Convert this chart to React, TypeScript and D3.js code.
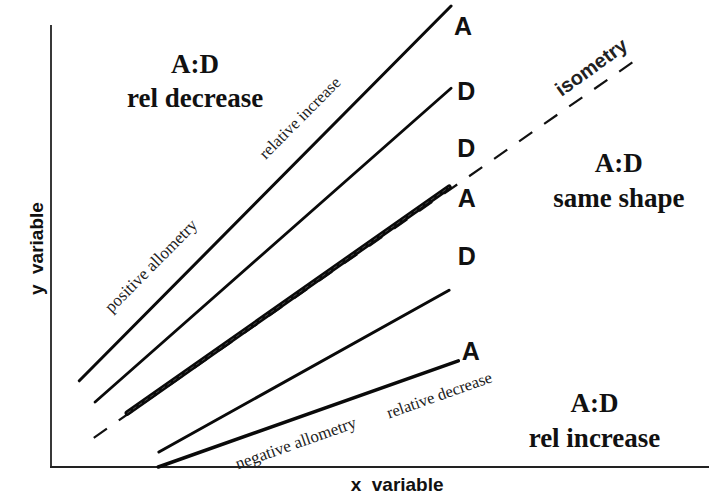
import * as d3 from 'd3';

// allometry diagram: A and D lines vs isometry
const seriesNames = ['A rel decrease', 'D rel decrease', 'A:D same shape', 'isometry', 'D rel increase', 'A rel increase'];
const xStart = [4.3, 6.7, 11.6, 6.5, 16.4, 16.3];
const yStart = [19.5, 14.7, 12.2, 6.6, 3.4, 0];
const xEnd = [60.8, 60.8, 60.5, 88.9, 60.5, 61.9];
const yEnd = [104.3, 85.7, 63.3, 92.1, 40.0, 24.0];
const endLabels = ['A', 'D', 'D', 'A', 'D', 'A'];
const regionTitles = ['rel decrease', 'same shape', 'rel increase'];
const slopeLabels = ['relative increase', 'positive allometry', 'negative allometry', 'relative decrease'];

const W = 709;
const H = 495;
const SANS = '"Liberation Sans", Arial, sans-serif';
const SERIF = '"Liberation Serif", "Times New Roman", serif';

export default function App() {
  const x = d3.scaleLinear().domain([0, 100]).range([51, 709]);
  const y = d3.scaleLinear().domain([0, 100]).range([467, 25]);

  const line = d3.line<[number, number]>()
    .x(d => x(d[0]))
    .y(d => y(d[1]));

  const pts = (i: number): [number, number][] => [[xStart[i], yStart[i]], [xEnd[i], yEnd[i]]];
  const angle = (i: number) =>
    Math.atan2(y(yEnd[i]) - y(yStart[i]), x(xEnd[i]) - x(xStart[i])) * 180 / Math.PI;

  const widths = [3, 2.8, 5.5, 2.2, 3, 3.5];

  // end label placement (data units)
  const endX = [62.6, 63.1, 63.1, 63.2, 63.2, 63.8];
  const endY = [97.7, 83.0, 70.1, 58.8, 45.7, 24.2];

  const rotated = (text: string, cx: number, cy: number, a: number, family: string, size: number, weight = 'normal') => (
    <text
      key={text}
      transform={`translate(${x(cx)},${y(cy)}) rotate(${a})`}
      textAnchor="middle"
      dominantBaseline="central"
      fontFamily={family}
      fontSize={size}
      fontWeight={weight}
      fill="#222"
    >
      {text}
    </text>
  );

  return (
    <svg
      width={W}
      height={H}
      style={{ position: 'absolute', left: 0, top: 0, background: '#fff' }}
    >
      {/* axes */}
      <line x1={x(0)} x2={x(0)} y1={y(0)} y2={y(100)} stroke="#222" strokeWidth={1.8} />
      <line x1={x(0) - 1} x2={x(100)} y1={y(0)} y2={y(0)} stroke="#222" strokeWidth={1.8} />

      {/* isometry first, so the thick line sits on top */}
      <path
        d={line(pts(3)) || ''}
        fill="none"
        stroke="#111"
        strokeWidth={widths[3]}
        strokeDasharray="16 14.5"
      />

      {seriesNames.map((name, i) => i === 3 ? null : (
        <path
          key={name}
          d={line(pts(i)) || ''}
          fill="none"
          stroke="#0a0a0a"
          strokeWidth={widths[i]}
          strokeLinecap="round"
        />
      ))}
      {/* doubled look of the coinciding A and D lines */}
      <path
        d={line(pts(2)) || ''}
        fill="none"
        stroke="#5a5a5a"
        strokeWidth={0.8}
        strokeDasharray="4 3"
      />

      {/* end labels */}
      {endLabels.map((t, i) => (
        <text
          key={i}
          x={x(endX[i])}
          y={y(endY[i])}
          textAnchor="middle"
          fontFamily={SANS}
          fontWeight="bold"
          fontSize={25}
          fill="#111"
        >
          {t}
        </text>
      ))}

      {/* region titles */}
      <g fontFamily={SERIF} fontWeight="bold" fontSize={27} fill="#111" textAnchor="middle">
        <text x={x(21.9)} y={y(89.1)}>A:D</text>
        <text x={x(21.9)} y={y(81.4)}>{regionTitles[0]}</text>
        <text x={x(86.3)} y={y(66.7)}>A:D</text>
        <text x={x(86.3)} y={y(58.8)}>{regionTitles[1]}</text>
        <text x={x(82.6)} y={y(12.4)}>A:D</text>
        <text x={x(82.6)} y={y(4.5)}>{regionTitles[2]}</text>
      </g>

      {/* slope labels */}
      {rotated(slopeLabels[0], 37.8, 79.0, angle(0), SERIF, 16.5)}
      {rotated(slopeLabels[1], 15.2, 45.5, angle(0), SERIF, 17)}
      {rotated(slopeLabels[2], 37.2, 5.4, angle(5), SERIF, 17)}
      {rotated(slopeLabels[3], 59.0, 16.3, angle(5), SERIF, 16.5)}
      {rotated('isometry', 82.1, 90.5, angle(3) - 1, SANS, 20, 'bold')}

      {/* axis titles */}
      <text
        transform={`translate(43,${y(49.4)}) rotate(-90)`}
        textAnchor="middle"
        fontFamily={SANS}
        fontWeight="bold"
        fontSize={19}
        fill="#111"
      >
        {'y\u00a0 variable'}
      </text>
      <text
        x={x(52.6)}
        y={491}
        textAnchor="middle"
        fontFamily={SANS}
        fontWeight="bold"
        fontSize={19}
        fill="#111"
      >
        {'x\u00a0 variable'}
      </text>
    </svg>
  );
}
